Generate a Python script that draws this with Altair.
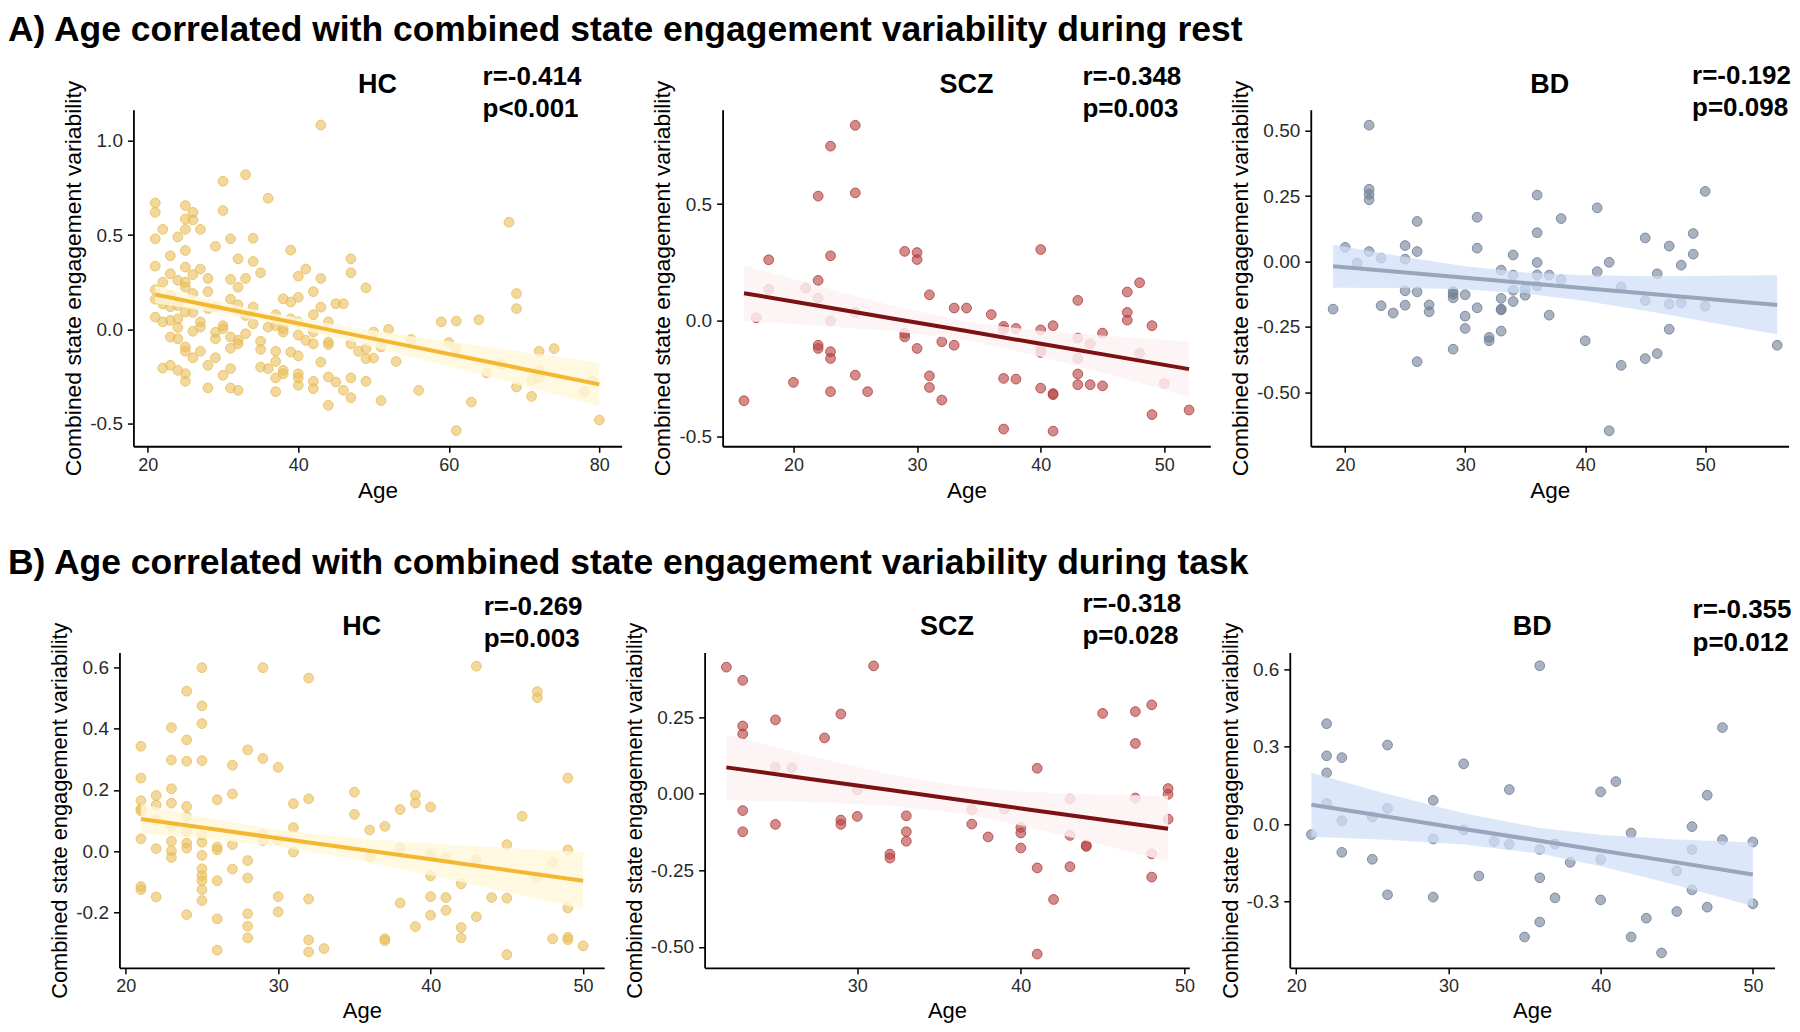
import altair as alt
import pandas as pd

FONT = "Liberation Sans"

ROW_A_TITLE = "A) Age correlated with combined state engagement variability during rest"
ROW_B_TITLE = "B) Age correlated with combined state engagement variability during task"
Y_TITLE = "Combined state engagement variability"
X_TITLE = "Age"

# ---------------- Row A : rest ----------------
A_HC_AGE = [21,21,21,21,21,21,21, 22,22,22,22,22, 23,23,23,23,23,23,23, 24,24,24,24,24,24,24,
            25,25,25,25,25,25,25,25,25,25,25,25, 26,26,26,26,26,26,26, 27,27,27,27,27, 28,28,28,28,28,
            29,29,29,29,29, 30,30,30,30,30, 31,31,31,31,31,31,31, 32,32,32,32,32,32, 33,33,33,33,
            34,34,34,34, 35,35,35,35, 36,36,36, 37,37,37,37,37,37, 38,38,38,38,38, 39,39,39,39,
            40,40,40,40,40,40,40,40, 41,41, 42,42,42,42,42,42, 43,43,43,43, 44,44,44,44,44, 45,45, 46,46,
            47,47,47,47,47, 48, 49,49,49,49, 50,50, 51,51, 52, 53, 55, 56, 59, 60, 61,61,61, 63, 64, 65,
            67, 68, 69,69,69, 71,71, 72,72,72, 74, 78, 79, 80]
A_HC_VAL = [0.67,0.62,0.48,0.335,0.21,0.16,0.065, 0.53,0.25,0.135,0.04,-0.205,
            0.39,0.295,0.18,0.12,0.048,-0.04,-0.19, 0.49,0.26,0.127,0.056,0.01,-0.05,-0.217,
            0.656,0.585,0.53,0.418,0.33,0.25,0.224,0.092,-0.093,-0.116,-0.235,-0.275,
            0.62,0.58,0.29,0.19,0.09,-0.01,-0.15, 0.53,0.32,0.04,0.012,-0.116, 0.27,0.2,0.11,-0.19,-0.31,
            0.44,0.12,-0.015,-0.05,-0.15, 0.785,0.63,0.02,0.004,-0.243, 0.48,0.265,0.16,-0.04,-0.1,-0.208,-0.31,
            0.374,0.224,0.13,-0.058,-0.076,-0.323, 0.82,0.27,0.074,-0.023, 0.483,0.36,0.118,0.03,
            0.3,-0.063,-0.106,-0.2, 0.695,0.012,-0.208, 0.078,0.02,-0.116,-0.17,-0.257,-0.33,
            0.162,0.004,-0.014,-0.217,-0.235, 0.42,0.145,0.056,-0.12,
            0.282,0.17,0.04,-0.03,-0.14,-0.235,-0.257,-0.296, 0.32,-0.058, 0.2,0.078,-0.014,-0.076,-0.275,-0.314,
            1.083,0.27,0.118,-0.173, 0.04,-0.067,-0.08,-0.252,-0.402, 0.136,-0.279, 0.136,-0.323,
            0.374,0.3,-0.076,-0.257,-0.362, -0.116, 0.22,-0.102,-0.155,-0.275, -0.014,-0.152, -0.093,-0.377,
            0.0, -0.17, -0.053, -0.323, 0.04, -0.07, 0.044,-0.102,-0.536, -0.385, 0.051, -0.23,
            -0.185, 0.568, 0.19,0.11,-0.305, -0.27,-0.355, -0.116,-0.217,-0.257, -0.102, -0.33, -0.27, -0.48]
A_HC_BAND_AGE = [21, 28, 36, 45, 55, 65, 80]
A_HC_FIT = [0.185, 0.128, 0.064, -0.009, -0.090, -0.170, -0.291]
A_HC_LO = [0.139, 0.096, 0.039, -0.043, -0.145, -0.248, -0.406]
A_HC_HI = [0.231, 0.160, 0.089, 0.025, -0.036, -0.092, -0.176]

A_SCZ_AGE = [16, 17, 18,18, 20, 21, 22,22,22,22,22, 23,23,23,23,23,23, 25,25,25,25, 26, 29,29,29,
             30,30,30, 31,31,31, 32,32, 33,33, 34, 36, 37,37,37,37, 38,38, 40,40,40,40,40,
             41,41,41,41, 43,43,43,43,43, 44,44, 45,45, 47,47,47, 48,48, 49,49, 50, 52]
A_SCZ_VAL = [-0.347, 0.01, 0.26,0.133, -0.268, 0.138, 0.534,0.171,0.095,-0.108,-0.122,
             0.749,0.277,-0.003,-0.136,-0.165,-0.308, 0.839,0.548,0.033,-0.237, -0.308,
             0.296,-0.056,-0.072, 0.291,0.261,-0.122, 0.109,-0.24,-0.29, -0.093,-0.344, 0.052,-0.108,
             0.052, 0.024, -0.027,-0.042,-0.251,-0.469, -0.036,-0.254, 0.304,-0.042,-0.125,-0.139,-0.293,
             -0.024,-0.316,-0.321,-0.478, 0.085,-0.077,-0.165,-0.232,-0.278, -0.102,-0.278, -0.056,-0.283,
             0.121,0.033,0.0, 0.161,-0.143, -0.024,-0.407, -0.273, -0.387]
A_SCZ_BAND_AGE = [16, 22, 28, 34, 40, 46, 52]
A_SCZ_FIT = [0.116, 0.062, 0.007, -0.047, -0.102, -0.156, -0.211]
A_SCZ_LO = [-0.004, -0.023, -0.048, -0.087, -0.157, -0.241, -0.331]
A_SCZ_HI = [0.236, 0.147, 0.062, -0.007, -0.047, -0.071, -0.091]

A_BD_AGE = [19, 20, 21, 22,22,22,22,22, 23,23, 24, 25,25,25,25, 26,26,26,26, 27,27, 29,29,29,29,
            30,30,30, 31,31,31, 32,32, 33,33,33,33,33, 34,34,34,34, 35,35, 36,36,36,36,36, 37,37,
            38,38, 40, 41,41, 42,42, 43,43, 45,45,45, 46,46, 47,47,47, 48,48, 49,49, 50,50, 56]
A_BD_VAL = [-0.182, 0.054, -0.006, 0.521,0.276,0.257,0.236,0.038, 0.013,-0.169, -0.197,
            0.061,0.009,-0.112,-0.167, 0.153,0.038,-0.116,-0.383, -0.166,-0.192,
            -0.115,-0.125,-0.139,-0.335, -0.127,-0.209,-0.256, 0.169,0.051,-0.177, -0.29,-0.303,
            -0.033,-0.141,-0.182,-0.185,-0.266, 0.025,-0.052,-0.11,-0.153, -0.106,-0.129,
            0.254,0.11,-0.004,-0.051,-0.093, -0.052,-0.205, 0.164,-0.069, -0.303, 0.205,-0.039,
            -0.003,-0.647, -0.097,-0.397, 0.09,-0.149,-0.371, -0.047,-0.352, 0.059,-0.163,-0.259,
            -0.014,-0.158, 0.107,0.028, 0.268,-0.171, -0.32]
A_BD_BAND_AGE = [19, 25, 30, 35, 40, 46, 56]
A_BD_FIT = [-0.018, -0.042, -0.062, -0.082, -0.102, -0.126, -0.166]
A_BD_LO = [-0.100, -0.101, -0.106, -0.122, -0.151, -0.196, -0.279]
A_BD_HI = [0.064, 0.017, -0.018, -0.042, -0.053, -0.056, -0.053]

# ---------------- Row B : task ----------------
B_HC_AGE = [21,21,21,21,21,21,21,21, 22,22,22,22,22, 23,23,23,23,23,23,23,23, 24,24,24,24,24,24,24,24,24,
            25,25,25,25,25,25,25,25,25,25,25,25, 26,26,26,26,26,26, 27,27,27,27, 28,28,28,28,28,28,
            29,29,29,29, 30,30,30,30, 31,31,31, 32,32,32,32,32, 33, 35,35, 36,36, 37,37,37, 38,38,38,
            39,39,39, 40,40,40,40,40, 41,41,41, 42,42,42, 43,43,43, 44, 45,45,45, 46, 47,47,47, 48,48,
            49,49,49,49,49, 50]
B_HC_VAL = [0.343,0.239,0.165,0.138,0.132,0.04,-0.116,-0.126, 0.182,0.151,0.102,0.008,-0.15,
            0.404,0.298,0.204,0.157,0.081,0.032,0.001,-0.021,
            0.523,0.364,0.294,0.146,0.113,0.064,0.026,0.01,-0.208,
            0.6,0.475,0.417,0.296,0.053,0.029,-0.014,-0.058,-0.08,-0.097,-0.126,-0.162,
            0.168,0.013,0.004,-0.097,-0.222,-0.324, 0.281,0.187,0.021,-0.059,
            0.331,-0.031,-0.088,-0.205,-0.246,-0.284, 0.6,0.303,0.056,0.034, 0.274,0.037,-0.149,-0.199,
            0.155,0.077,-0.003, 0.566,0.171,-0.157,-0.291,-0.33, -0.319, 0.193,0.12, 0.069,-0.019,
            0.081,-0.287,-0.293, 0.136,0.01,-0.17, 0.183,0.157,-0.247, 0.144,-0.009,-0.081,-0.149,-0.21,
            -0.023,-0.152,-0.194, -0.107,-0.25,-0.284, 0.605,-0.028,-0.215, -0.152, 0.021,-0.154,-0.339,
            0.114, 0.522,0.502,-0.085, -0.037,-0.287, 0.239,0.004,-0.186,-0.282,-0.29, -0.31]
B_HC_BAND_AGE = [21, 25, 30, 35, 40, 45, 50]
B_HC_FIT = [0.105, 0.077, 0.042, 0.008, -0.027, -0.062, -0.097]
B_HC_LO = [0.057, 0.042, 0.015, -0.027, -0.079, -0.134, -0.190]
B_HC_HI = [0.154, 0.112, 0.069, 0.043, 0.025, 0.010, -0.004]

B_SCZ_AGE = [22, 23,23,23,23,23, 25,25,25, 26, 28, 29,29,29, 30,30, 31, 32,32, 33,33,33, 37,37, 38, 39,
             40,40,40, 41,41,41, 42, 43,43,43, 44,44, 45, 47,47,47, 48,48,48, 49,49,49]
B_SCZ_VAL = [0.413, 0.37,0.221,0.195,-0.055,-0.124, 0.241,0.087,-0.1, 0.085, 0.182, 0.26,-0.086,-0.1,
             0.013,-0.074, 0.417, -0.197,-0.21, -0.072,-0.124,-0.155, -0.052,-0.099, -0.141, -0.05,
             -0.11,-0.128,-0.177, 0.083,-0.242,-0.523, -0.345, -0.017,-0.136,-0.238, -0.168,-0.172,
             0.262, 0.268,0.164,-0.014, 0.29,-0.196,-0.272, 0.017,-0.002,-0.083]
B_SCZ_BAND_AGE = [22, 27, 32, 36, 40, 45, 49]
B_SCZ_FIT = [0.086, 0.049, 0.012, -0.018, -0.048, -0.085, -0.114]
B_SCZ_LO = [-0.021, -0.027, -0.039, -0.063, -0.103, -0.167, -0.221]
B_SCZ_HI = [0.193, 0.125, 0.063, 0.027, 0.007, -0.003, -0.007]

B_BD_AGE = [21, 22,22,22,22, 23,23,23, 25,25, 26,26,26, 29,29,29, 31,31, 32, 33, 34,34, 35,
            36,36,36,36, 37,37, 38, 40,40,40, 41, 42,42, 43, 44, 45,45, 46,46,46, 47,47, 48,48, 50,50]
B_BD_VAL = [-0.041, 0.39,0.265,0.199,0.08, 0.258,0.013,-0.11, 0.028,-0.137, 0.307,0.061,-0.275,
            0.092,-0.058,-0.284, 0.234,-0.023, -0.202, -0.068, 0.134,-0.079, -0.439,
            0.615,-0.099,-0.209,-0.381, -0.078,-0.287, -0.149, 0.125,-0.138,-0.295, 0.165,
            -0.035,-0.439, -0.366, -0.501, -0.182,-0.34, -0.01,-0.099,-0.256, 0.112,-0.323,
            0.375,-0.061, -0.07,-0.31]
B_BD_BAND_AGE = [21, 26, 31, 36, 40, 45, 50]
B_BD_FIT = [0.075, 0.028, -0.019, -0.065, -0.103, -0.149, -0.196]
B_BD_LO = [-0.049, -0.061, -0.080, -0.115, -0.164, -0.238, -0.320]
B_BD_HI = [0.199, 0.117, 0.042, -0.015, -0.042, -0.060, -0.072]

STATS_A = [("r=-0.414", "p<0.001"), ("r=-0.348", "p=0.003"), ("r=-0.192", "p=0.098")]
STATS_B = [("r=-0.269", "p=0.003"), ("r=-0.318", "p=0.028"), ("r=-0.355", "p=0.012")]

PT_COLORS = {"HC": "#E9BE5A", "SCZ": "#B5403F", "BD": "#6F7F96"}
BAND_COLORS = {"HC": "#FFF8DA", "SCZ": "#FDF1F4", "BD": "#CEDFF8"}
BAND_OPACITY = {"HC": 0.8, "SCZ": 0.82, "BD": 0.72}
LINE_COLORS = {"HC": "#F4B731", "SCZ": "#7B1113", "BD": "#97A5BD"}


def panel(age, val, bage, fit, lo, hi, group, stats, xdom, ydom, xticks, yticks, yfmt,
          w, h, rx, ry, py, ytfs, xtfs, xtpad):
    pts = pd.DataFrame({"age": age, "val": val})
    band = pd.DataFrame({"age": bage, "fit": fit, "lo": lo, "hi": hi})
    xs = alt.Scale(domain=xdom, nice=False, zero=False)
    ys = alt.Scale(domain=ydom, nice=False, zero=False)
    lab = ("datum.value < 0 ? '-' + format(-datum.value, '%s') : format(datum.value, '%s')"
           % (yfmt, yfmt))
    xax = alt.Axis(values=xticks, title=X_TITLE, format="d", titleFontSize=xtfs, titlePadding=xtpad)
    yax = alt.Axis(values=yticks, title=Y_TITLE, labelExpr=lab, titleFontSize=ytfs)

    points = alt.Chart(pts).mark_circle(
        size=95, opacity=1, color=PT_COLORS[group], fillOpacity=0.6,
        stroke=PT_COLORS[group], strokeOpacity=0.85, strokeWidth=1
    ).encode(x=alt.X("age:Q", scale=xs, axis=xax), y=alt.Y("val:Q", scale=ys, axis=yax))
    area = alt.Chart(band).mark_area(color=BAND_COLORS[group], opacity=BAND_OPACITY[group]).encode(
        x=alt.X("age:Q", scale=xs, axis=xax), y=alt.Y("lo:Q", scale=ys, axis=yax), y2="hi:Q")
    line = alt.Chart(band).mark_line(color=LINE_COLORS[group], strokeWidth=4).encode(
        x=alt.X("age:Q", scale=xs, axis=xax), y=alt.Y("fit:Q", scale=ys, axis=yax))
    ttl = alt.Chart(pd.DataFrame({"t": [group]})).mark_text(
        font=FONT, fontSize=27, fontWeight="bold", align="center", baseline="alphabetic",
        color="black").encode(x=alt.value(w / 2), y=alt.value(-17), text="t:N")
    rt = alt.Chart(pd.DataFrame({"t": [stats[0]]})).mark_text(
        font=FONT, fontSize=26, fontWeight="bold", align="left", baseline="alphabetic",
        color="black").encode(x=alt.value(rx), y=alt.value(ry), text="t:N")
    pt = alt.Chart(pd.DataFrame({"t": [stats[1]]})).mark_text(
        font=FONT, fontSize=26, fontWeight="bold", align="left", baseline="alphabetic",
        color="black").encode(x=alt.value(rx), y=alt.value(py), text="t:N")
    return alt.layer(points, area, line, ttl, rt, pt).properties(width=w, height=h)


def spacer(title, w, h, ty):
    return alt.Chart(pd.DataFrame({"t": [title]})).mark_text(
        font=FONT, fontSize=35.5, fontWeight="bold", align="left", baseline="top", color="black"
    ).encode(x=alt.value(0), y=alt.value(ty), text="t:N").properties(width=w, height=h)


HA = 336.7
HB = 315.6

a_hc = panel(A_HC_AGE, A_HC_VAL, A_HC_BAND_AGE, A_HC_FIT, A_HC_LO, A_HC_HI, "HC", STATS_A[0],
             [18.1, 82.97], [-0.619, 1.164], [20, 40, 60, 80], [-0.5, 0, 0.5, 1.0], ".1f",
             488.5, HA, 349.3, -25, 7, 22.9, 22.5, 5)
a_scz = panel(A_SCZ_AGE, A_SCZ_VAL, A_SCZ_BAND_AGE, A_SCZ_FIT, A_SCZ_LO, A_SCZ_HI, "SCZ", STATS_A[1],
              [14.27, 53.72], [-0.543, 0.906], [20, 30, 40, 50], [-0.5, 0, 0.5], ".1f",
              488, HA, 360, -25, 7, 22.9, 22.5, 5)
a_bd = panel(A_BD_AGE, A_BD_VAL, A_BD_BAND_AGE, A_BD_FIT, A_BD_LO, A_BD_HI, "BD", STATS_A[2],
             [17.14, 56.94], [-0.706, 0.580], [20, 30, 40, 50], [-0.5, -0.25, 0, 0.25, 0.5], ".2f",
             478, HA, 381.5, -26, 6, 22.9, 22.5, 5)
b_hc = panel(B_HC_AGE, B_HC_VAL, B_HC_BAND_AGE, B_HC_FIT, B_HC_LO, B_HC_HI, "HC", STATS_B[0],
             [19.59, 51.38], [-0.382, 0.65], [20, 30, 40, 50], [-0.2, 0, 0.2, 0.4, 0.6], ".1f",
             485, HB, 364.4, -37, -5, 21.8, 22, 5)
b_scz = panel(B_SCZ_AGE, B_SCZ_VAL, B_SCZ_BAND_AGE, B_SCZ_FIT, B_SCZ_LO, B_SCZ_HI, "SCZ", STATS_B[1],
              [20.67, 50.3], [-0.568, 0.461], [30, 40, 50], [-0.5, -0.25, 0, 0.25], ".2f",
              485, HB, 378, -40, -8.5, 21.8, 22, 5)
b_bd = panel(B_BD_AGE, B_BD_VAL, B_BD_BAND_AGE, B_BD_FIT, B_BD_LO, B_BD_HI, "BD", STATS_B[2],
             [19.58, 51.42], [-0.559, 0.667], [20, 30, 40, 50], [-0.3, 0, 0.3, 0.6], ".1f",
             485, HB, 403, -34.5, -1, 21.8, 22, 5)

row_a = alt.hconcat(spacer(ROW_A_TITLE, 24.7, HA, -96.5), a_hc, a_scz, a_bd,
                    spacing=100.5, bounds="flush")
row_b = alt.hconcat(spacer(ROW_B_TITLE, 10.3, HB, -106), b_hc, b_scz, b_bd,
                    spacing=100.5, bounds="flush")

chart = alt.vconcat(row_a, row_b, spacing=44).properties(
    padding={"top": 4.5, "left": 0, "right": 0, "bottom": 0}, background="white"
).configure_view(
    stroke=None
).configure_axis(
    grid=False, domainColor="black", domainWidth=1.8, tickColor="black", tickWidth=1.5,
    tickSize=6, labelFont=FONT, labelFontSize=18, labelColor="#2a2a2a", titleFont=FONT,
    titleFontSize=22, titleFontWeight="normal", titleColor="black", labelFlush=False,
    labelOverlap=False
).configure_axisX(
    labelPadding=4, labelFontSize=18
).configure_axisY(
    labelPadding=5, titlePadding=4, labelFontSize=19
)

chart.save("out.html", embed_options={"renderer": "svg", "actions": False})
